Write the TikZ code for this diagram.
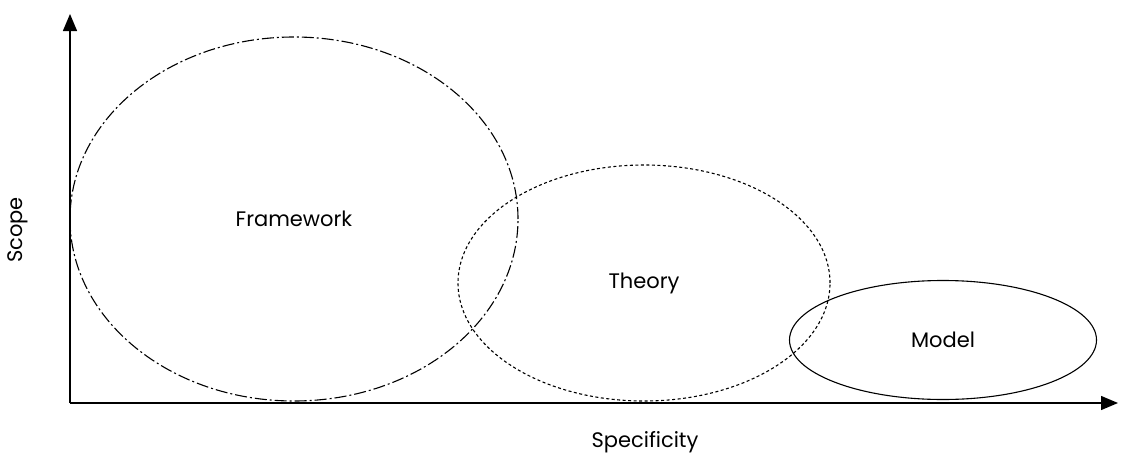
\documentclass[tikz,border=0pt]{standalone}
\usepackage{fontspec}
\setmainfont{Poppins}
\usetikzlibrary{positioning}
\usetikzlibrary{arrows.meta}
\usetikzlibrary{shapes.geometric}
\tikzset{
    every picture/.style={>={Triangle[length=17pt,width=14pt]},x=1pt,y=-1pt},
    region/.style={ellipse,draw,line width=1.1pt,inner sep=0pt,font=\fontsize{21}{24}\selectfont},
    axislabel/.style={font=\fontsize{21}{24}\selectfont},
}
\begin{document}
\begin{tikzpicture}
\useasboundingbox (0,0) rectangle (1124,463);

\coordinate (o) at (70,403);
\coordinate (ytip) at (70,14);
\coordinate (xtip) at (1118,403);

\node[region,minimum width=448pt,minimum height=364pt,
  dash pattern=on 12pt off 3pt on 2pt off 3pt] (framework) at (294,219) {Framework};
\node[region,minimum width=372pt,minimum height=236pt,
  dash pattern=on 3pt off 2.5pt] (theory) at (644,283) {Theory};
\node[region,minimum width=307pt,minimum height=119pt] (model) at (943,340) {Model};

\draw[->,line width=1.3pt] (o) -- (ytip);
\draw[->,line width=1.3pt] (o) -- (xtip);

\node[axislabel,rotate=90] (scope) at (18,230) {Scope};
\node[axislabel] (specificity) at (645,442) {Specificity};

\end{tikzpicture}
\end{document}
